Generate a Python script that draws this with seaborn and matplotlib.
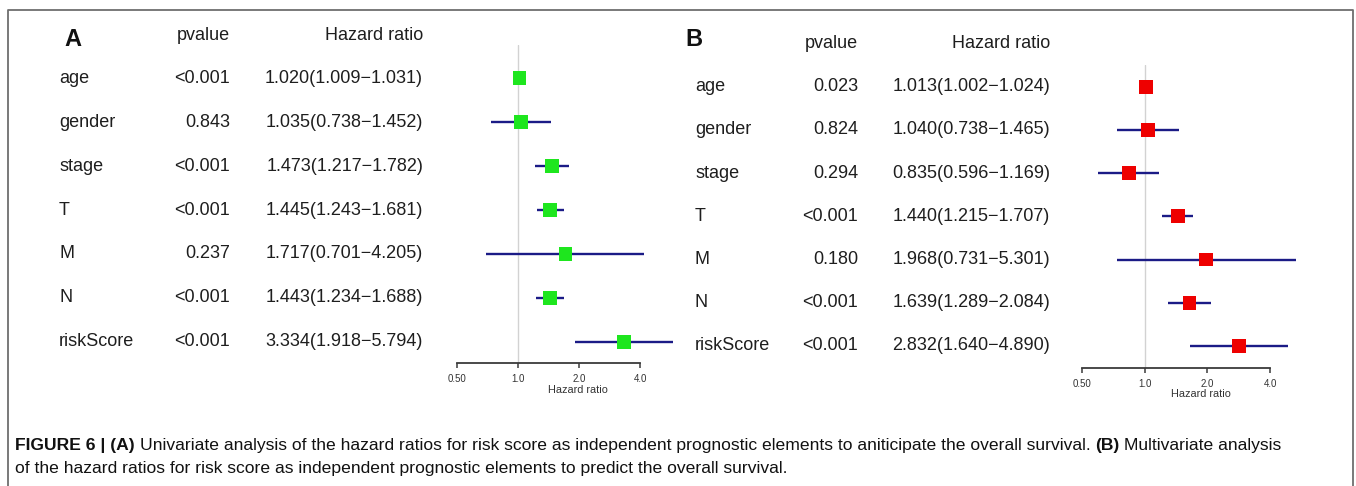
import numpy as np
import pandas as pd
import matplotlib
matplotlib.use("Agg")
import matplotlib.pyplot as plt
import seaborn as sns
from matplotlib.transforms import blended_transform_factory
from matplotlib.lines import Line2D
from matplotlib.ticker import NullLocator

# Data
variables = ["age", "gender", "stage", "T", "M", "N", "riskScore"]

# (A) univariate
uni_p = ["<0.001", "0.843", "<0.001", "<0.001", "0.237", "<0.001", "<0.001"]
uni_hr = [1.020, 1.035, 1.473, 1.445, 1.717, 1.443, 3.334]
uni_low = [1.009, 0.738, 1.217, 1.243, 0.701, 1.234, 1.918]
uni_high = [1.031, 1.452, 1.782, 1.681, 4.205, 1.688, 5.794]

# (B) multivariate
multi_p = ["0.023", "0.824", "0.294", "<0.001", "0.180", "<0.001", "<0.001"]
multi_hr = [1.013, 1.040, 0.835, 1.440, 1.968, 1.639, 2.832]
multi_low = [1.002, 0.738, 0.596, 1.215, 0.731, 1.289, 1.640]
multi_high = [1.024, 1.465, 1.169, 1.707, 5.301, 2.084, 4.890]

tick_values = [0.5, 1, 2, 4]
tick_labels = ["0.50", "1.0", "2.0", "4.0"]

sns.set_theme(style="white")
plt.rcParams["font.family"] = ["Liberation Sans", "DejaVu Sans"]

W, H = 1356, 486
fig = plt.figure(figsize=(W / 100, H / 100), dpi=100)
fig.patch.set_facecolor("white")

TXT = "#1e1e1e"
CI_COLOR = "#1b1b86"


def fx(x):
    return x / W


def fy(y):
    return 1 - y / H


def add_axes_px(left, top, right, bottom):
    return fig.add_axes([fx(left), fy(bottom), (right - left) / W, (bottom - top) / H])


def forest(ax, df, color, xmax, ylim):
    ax.set_xscale("log", base=2)
    ax.axvline(1, color="#d2d2d2", lw=1, zorder=0)
    ax.hlines(df["row"], df["low"], df["high"], color=CI_COLOR, lw=1.7, zorder=1)
    sns.scatterplot(data=df, x="hr", y="row", marker="s", s=100, color=color,
                    edgecolor="none", linewidth=0, ax=ax, zorder=2, legend=False,
                    clip_on=False)
    ax.set_xlim(0.5, xmax)
    ax.set_ylim(*ylim)
    ax.set_yticks([])
    ax.set_ylabel("")
    ax.set_xticks(tick_values)
    ax.set_xticklabels(tick_labels)
    ax.xaxis.set_minor_locator(NullLocator())
    for s in ["left", "top", "right"]:
        ax.spines[s].set_visible(False)
    ax.spines["bottom"].set_bounds(0.5, 4)
    ax.spines["bottom"].set_color("#3a3a3a")
    ax.spines["bottom"].set_linewidth(1.3)
    ax.tick_params(axis="x", bottom=True, direction="out", length=3.5, width=1.1,
                   color="#3a3a3a", labelsize=7, labelcolor="#333333", pad=4.5)
    ax.set_xlabel("Hazard ratio", fontsize=7.8, color="#333333", labelpad=0.5)
    ax.set_facecolor("none")


def table(ax, df, x_label, x_p, x_hr, size=13):
    tr = blended_transform_factory(fig.transFigure, ax.transData)
    for _, r in df.iterrows():
        ax.text(fx(x_label), r["row"], r["var"], transform=tr, ha="left", va="center",
                fontsize=size, color=TXT)
        ax.text(fx(x_p), r["row"], r["p"], transform=tr, ha="right", va="center",
                fontsize=size, color=TXT)
        hr_txt = f"{r['hr']:.3f}({r['low']:.3f}\u2212{r['high']:.3f})"
        ax.text(fx(x_hr), r["row"], hr_txt, transform=tr, ha="right", va="center",
                fontsize=size, color=TXT)


uni = pd.DataFrame({"var": variables, "p": uni_p, "hr": uni_hr,
                    "low": uni_low, "high": uni_high, "row": np.arange(len(variables))})
multi = pd.DataFrame({"var": variables, "p": multi_p, "hr": multi_hr,
                      "low": multi_low, "high": multi_high, "row": np.arange(len(variables))})

# Panel A
axA = add_axes_px(456.7, 45, 700, 362.7)
forest(axA, uni, "#1ee61e", 0.5 * 2 ** ((700 - 456.7) / 61.1),
       ((362.7 - 78.3) / 43.9, (45 - 78.3) / 43.9))
table(axA, uni, 59, 230, 423)
fig.text(fx(64), fy(39.5), "A", fontsize=17, fontweight="bold", ha="left", va="center", color="#111111")
fig.text(fx(230), fy(36), "pvalue", fontsize=13, ha="right", va="center", color=TXT)
fig.text(fx(423), fy(36), "Hazard ratio", fontsize=13, ha="right", va="center", color=TXT)

# Panel B
axB = add_axes_px(1082.3, 65, 1320, 367.5)
forest(axB, multi, "#ee0000", 0.5 * 2 ** ((1320 - 1082.3) / 62.6),
       ((367.5 - 86.7) / 43.2, (65 - 86.7) / 43.2))
table(axB, multi, 695, 858, 1050)
fig.text(fx(685), fy(39), "B", fontsize=17, fontweight="bold", ha="left", va="center", color="#111111")
fig.text(fx(858), fy(44), "pvalue", fontsize=13, ha="right", va="center", color=TXT)
fig.text(fx(1050), fy(44), "Hazard ratio", fontsize=13, ha="right", va="center", color=TXT)

# Frame around the figure
fig.add_artist(Line2D([fx(8), fx(8), fx(1353), fx(1353)], [0, fy(10), fy(10), 0],
                      color="#6e6e6e", lw=1.3))

# Caption with bold parts
renderer = fig.canvas.get_renderer()


def space_width(size):
    a = fig.text(0, 0, "a a", fontsize=size)
    b = fig.text(0, 0, "aa", fontsize=size)
    w = a.get_window_extent(renderer).width - b.get_window_extent(renderer).width
    a.remove()
    b.remove()
    return w


def put_line(parts, x0, y0, size):
    gap = space_width(size)
    x = x0
    for text, weight in parts:
        t = fig.text(fx(x), fy(y0), text, fontsize=size, fontweight=weight,
                     ha="left", va="baseline", color="#111111")
        x = t.get_window_extent(renderer).x1 + gap


cap_size = 12.6
put_line([("FIGURE 6 | (A)", "bold"),
          ("Univariate analysis of the hazard ratios for risk score as independent prognostic "
           "elements to aniticipate the overall survival.", "normal"),
          ("(B)", "bold"),
          ("Multivariate analysis", "normal")], 15, 450, cap_size)
put_line([("of the hazard ratios for risk score as independent prognostic elements to predict "
           "the overall survival.", "normal")], 15, 473, cap_size)

fig.savefig("out.png", dpi=100, facecolor="white")
